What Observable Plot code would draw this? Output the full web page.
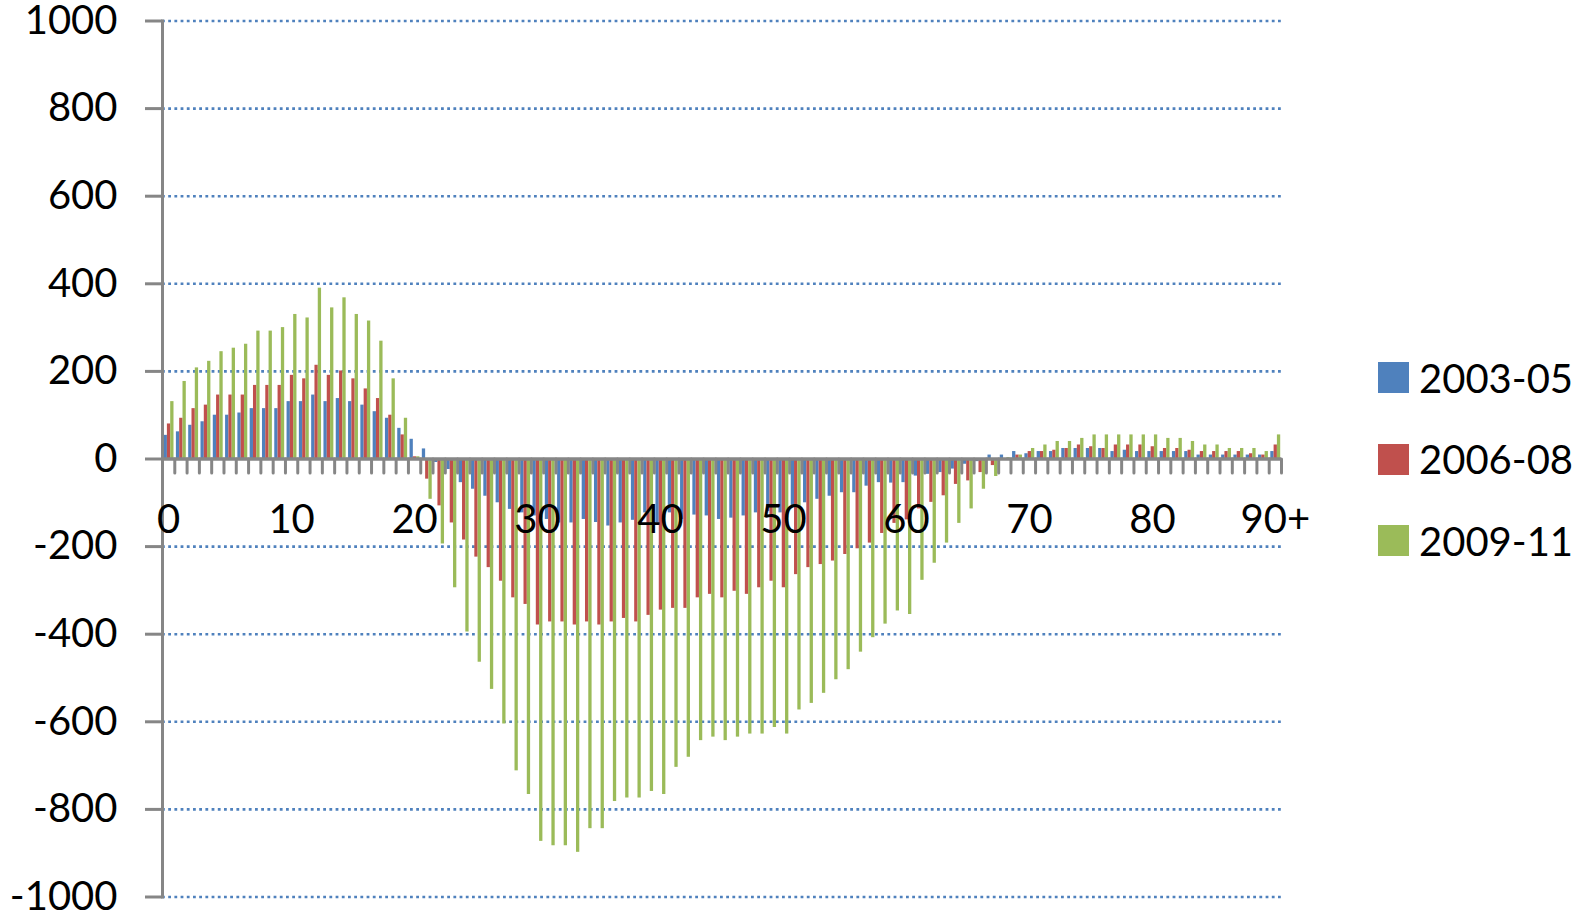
<!DOCTYPE html>
<html><head><meta charset="utf-8">
<script src="https://cdn.jsdelivr.net/npm/d3@7"></script>
<script src="https://cdn.jsdelivr.net/npm/@observablehq/plot@0.6"></script>
<style>
body{margin:0;background:#fff;}
#wrap{position:relative;width:1595px;height:919px;font-family:Lato,sans-serif;}
#chart{position:absolute;left:0;top:0;}
#legend{position:absolute;left:1378px;top:362px;}
.item{display:flex;align-items:center;height:31px;margin-bottom:50.5px;font-size:40px;color:#000;}
.sw{width:31px;height:31px;margin-right:10px;flex:none;}
</style></head><body>
<div id="wrap"><div id="chart"></div><div id="legend"></div></div>
<script>
const ages = [0,1,2,3,4,5,6,7,8,9,10,11,12,13,14,15,16,17,18,19,20,21,22,23,24,25,26,27,28,29,30,31,32,33,34,35,36,37,38,39,40,41,42,43,44,45,46,47,48,49,50,51,52,53,54,55,56,57,58,59,60,61,62,63,64,65,66,67,68,69,70,71,72,73,74,75,76,77,78,79,80,81,82,83,84,85,86,87,88,89,90];
const seriesNames = ["2003-05","2006-08","2009-11"];
const seriesColors = ["#4f81bd","#c0504d","#9bbb59"];
const v2003 = [54,62,77,85,100,100,105,115,115,115,131,131,146,131,138,131,123,108,93,70,45,
  23,-8,-24,-54,-69,-85,-100,-115,-123,-130,-138,-146,-146,-138,-145,-153,-146,-140,-123,-146,-123,-138,-128,-130,
  -138,-135,-130,-123,-120,-123,-110,-100,-92,-85,-77,-77,-62,-54,-55,-54,-39,-35,-31,-23,-12,-6,
  9,9,17,12,17,17,24,24,24,24,17,20,17,17,17,17,17,9,9,9,9,9,9,17];
const v2006 = [80,93,115,123,146,146,146,168,168,168,191,183,214,191,201,183,160,138,100,55,5,
  -46,-107,-146,-185,-224,-248,-279,-317,-332,-379,-372,-372,-379,-372,-379,-372,-364,-372,-357,-345,-341,-341,-317,-309,
  -317,-302,-309,-294,-279,-294,-264,-248,-241,-233,-218,-205,-192,-170,-147,-139,-114,-99,-84,-58,-50,-31,
  -15,-3,9,17,17,20,24,32,28,24,32,32,32,28,24,24,20,17,17,17,17,12,9,32];
const v2009 = [131,177,208,223,245,253,262,292,292,300,330,322,390,345,368,330,315,269,183,93,5,
  -92,-194,-294,-395,-464,-526,-605,-712,-766,-873,-883,-883,-898,-844,-844,-782,-774,-774,-759,-766,-704,-681,-643,-635,
  -643,-635,-628,-628,-613,-628,-573,-558,-535,-504,-481,-441,-408,-377,-347,-355,-277,-238,-192,-147,-114,-69,
  -40,3,9,24,32,40,40,47,55,55,55,55,55,55,47,47,40,32,32,24,24,24,17,55];
const yTicks = [-1000,-800,-600,-400,-200,0,200,400,600,800,1000];
const xLabelAges = [0,10,20,30,40,50,60,70,80,90];
const xLabels = ["0","10","20","30","40","50","60","70","80","90+"];

const allValues = [v2003, v2006, v2009];
const rows = allValues.map(vals => ages.map((a, i) => ({age: a, value: vals[i]})));
const boundaries = ages.concat([ages[ages.length - 1] + 1]);
const labelRows = xLabelAges.map((a, i) => ({age: a, label: xLabels[i]}));

// bar slot insets within a category (pixels)
const slots = [[1.6, 7.4], [4.9, 4.1], [8.2, 0.8]];
const lineShape = {draw(context, l) { context.moveTo(0, 0); context.lineTo(0, -l); }};

const bars = rows.map((data, s) => Plot.rect(data, {
  x1: "age", x2: d => d.age + 1, y1: 0, y2: "value",
  fill: seriesColors[s], insetLeft: slots[s][0], insetRight: slots[s][1]
}));

const chart = Plot.plot({
  width: 1340, height: 919,
  marginLeft: 162, marginRight: 59, marginTop: 20.5, marginBottom: 22.5,
  x: {domain: [0, 91], axis: null},
  y: {domain: [-1000, 1000], axis: null},
  style: {fontFamily: "Lato, sans-serif", background: "white", overflow: "visible", color: "black"},
  marks: [
    Plot.ruleY(yTicks.filter(d => d !== 0), {stroke: "#4f81bd", strokeWidth: 2.6, strokeDasharray: "2.8,3.4"}),
    ...bars,
    Plot.ruleY([0], {stroke: "#868686", strokeWidth: 3.5}),
    Plot.vector(boundaries, {x: d => d, y: 0, length: 14, rotate: 180, anchor: "start", shape: lineShape, stroke: "#868686", strokeWidth: 3}),
    Plot.frame({anchor: "left", stroke: "#868686", strokeWidth: 3}),
    Plot.axisY({ticks: yTicks, tickSize: 17, tickPadding: 28, stroke: "#868686", strokeWidth: 3, fontSize: 40, fill: "black", tickFormat: d => String(d), label: null}),
    Plot.text(labelRows, {x: d => d.age + 0.5, y: 0, text: "label", dy: 61, fontSize: 40, fill: "black"})
  ]
});
document.getElementById("chart").appendChild(chart);

const legend = document.getElementById("legend");
seriesNames.forEach((name, i) => {
  const item = document.createElement("div");
  item.className = "item";
  const sw = document.createElement("div");
  sw.className = "sw";
  sw.style.background = seriesColors[i];
  const t = document.createElement("span");
  t.textContent = name;
  item.appendChild(sw); item.appendChild(t);
  legend.appendChild(item);
});
</script>
</body></html>
